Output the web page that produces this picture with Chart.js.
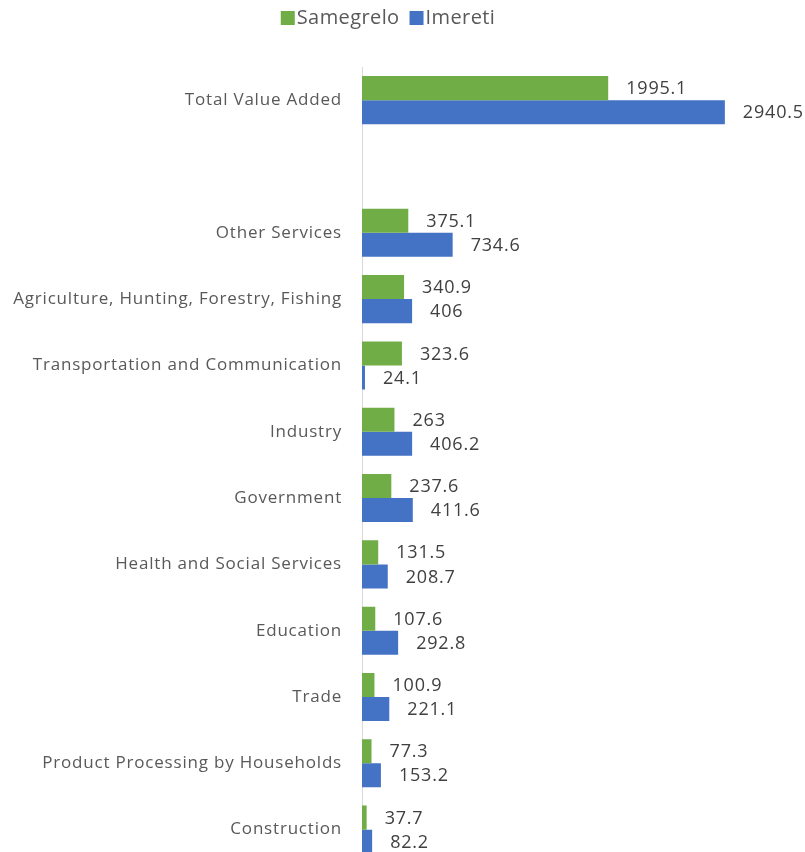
<!DOCTYPE html>
<html>
<head>
<meta charset="utf-8">
<script src="https://cdn.jsdelivr.net/npm/chart.js@4"></script>
<style>
  html, body { margin: 0; padding: 0; background: #ffffff; overflow: hidden; }
  #wrap { width: 805px; height: 893px; position: relative; }
</style>
</head>
<body>
<div id="wrap"><canvas id="c"></canvas></div>
<script>
// Gross value added by sector (mln GEL)
const categories = [
  "Total Value Added",
  "",
  "Other Services",
  "Agriculture, Hunting, Forestry, Fishing",
  "Transportation and Communication",
  "Industry",
  "Government",
  "Health and Social Services",
  "Education",
  "Trade",
  "Product Processing by Households",
  "Construction"
];
const samegrelo = [1995.1, null, 375.1, 340.9, 323.6, 263, 237.6, 131.5, 107.6, 100.9, 77.3, 37.7];
const imereti   = [2940.5, null, 734.6, 406, 24.1, 406.2, 411.6, 208.7, 292.8, 221.1, 153.2, 82.2];
const seriesNames = ["Samegrelo", "Imereti"];
const seriesColors = ["#70AD47", "#4472C4"];

const FONT = "'Open Sans', 'Noto Sans', sans-serif";

// Slightly open letter spacing for every text drawn on the canvas
const spacing = {
  id: 'spacing',
  beforeDraw(chart) { chart.ctx.letterSpacing = '0.8px'; }
};

// Compact legend above the plot
const topLegend = {
  id: 'topLegend',
  afterDraw(chart) {
    const ctx = chart.ctx;
    ctx.save();
    ctx.font = "20px " + FONT;
    ctx.letterSpacing = '0.4px';
    ctx.textBaseline = 'middle';
    ctx.textAlign = 'left';
    const box = 14, gap = 2, between = 10, cy = 18, centre = 388;
    const items = chart.data.datasets.map(ds => ({
      text: ds.label, color: ds.backgroundColor,
      w: box + gap + ctx.measureText(ds.label).width
    }));
    const total = items.reduce((s, it) => s + it.w, 0) + between * (items.length - 1);
    let x = centre - total / 2;
    items.forEach(it => {
      ctx.fillStyle = it.color;
      ctx.fillRect(x, cy - box / 2, box, box);
      ctx.fillStyle = '#595959';
      ctx.fillText(it.text, x + box + gap, cy);
      x += it.w + between;
    });
    ctx.restore();
  }
};

// Value labels drawn to the right of each bar end
const valueLabels = {
  id: 'valueLabels',
  afterDatasetsDraw(chart) {
    const ctx = chart.ctx;
    ctx.save();
    ctx.font = "18px " + FONT;
    ctx.letterSpacing = '0.8px';
    ctx.fillStyle = '#404040';
    ctx.textAlign = 'left';
    ctx.textBaseline = 'middle';
    chart.data.datasets.forEach((ds, di) => {
      const meta = chart.getDatasetMeta(di);
      meta.data.forEach((bar, i) => {
        const v = ds.data[i];
        if (v === null || v === undefined) return;
        ctx.fillText(String(v), bar.x + 18, bar.y + 1);
      });
    });
    ctx.restore();
  }
};

new Chart(document.getElementById('c'), {
  type: 'bar',
  data: {
    labels: categories,
    datasets: [
      { label: seriesNames[0], data: samegrelo, backgroundColor: seriesColors[0] },
      { label: seriesNames[1], data: imereti, backgroundColor: seriesColors[1] }
    ]
  },
  options: {
    indexAxis: 'y',
    responsive: true,
    maintainAspectRatio: false,
    animation: false,
    layout: { padding: { top: 67, right: 0, left: 0, bottom: 0 } },
    datasets: { bar: { categoryPercentage: 0.725, barPercentage: 1.0 } },
    plugins: {
      legend: { display: false },
      tooltip: { enabled: false }
    },
    scales: {
      x: {
        display: false,
        min: 0,
        max: 3590
      },
      y: {
        grid: { display: false, drawTicks: false },
        border: { display: true, color: '#d9d9d9', width: 1 },
        ticks: {
          font: { family: FONT, size: 17 },
          color: '#595959',
          padding: 20
        },
        afterFit(scale) { scale.width = 362; }
      }
    }
  },
  plugins: [spacing, topLegend, valueLabels]
});
</script>
</body>
</html>
